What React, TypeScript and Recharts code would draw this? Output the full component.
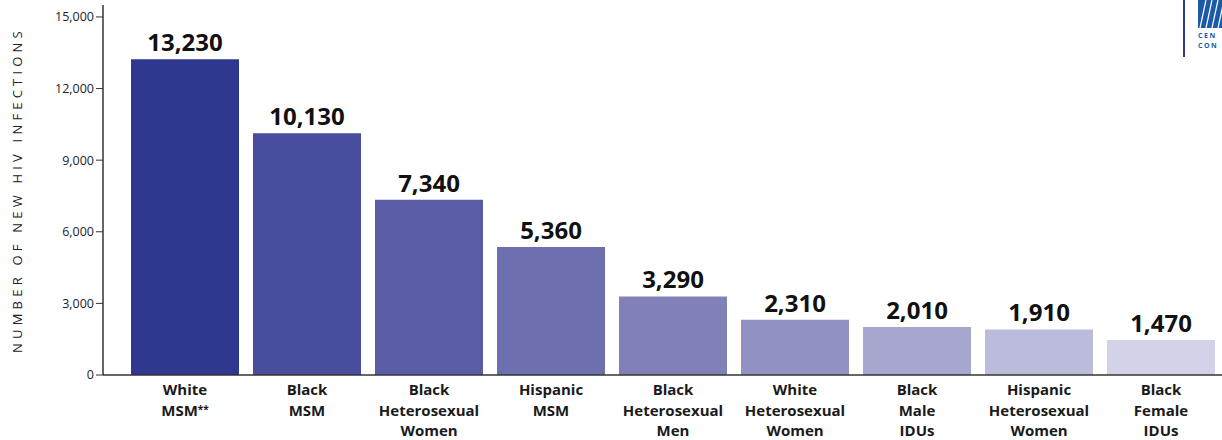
import { BarChart, Bar, XAxis, YAxis, Cell, LabelList } from "recharts";

const groups = [
  "White|MSM**",
  "Black|MSM",
  "Black|Heterosexual|Women",
  "Hispanic|MSM",
  "Black|Heterosexual|Men",
  "White|Heterosexual|Women",
  "Black|Male|IDUs",
  "Hispanic|Heterosexual|Women",
  "Black|Female|IDUs",
];
const infections = [13230, 10130, 7340, 5360, 3290, 2310, 2010, 1910, 1470];
const barColors = [
  "#2d388e",
  "#484d9d",
  "#5a5ca5",
  "#6e6fae",
  "#8181b9",
  "#9292c4",
  "#a6a6cf",
  "#bbbbdb",
  "#d2d2e8",
];
const yTicks = [0, 3000, 6000, 9000, 12000, 15000];

const data = groups.map((g, i) => ({ group: g, value: infections[i] }));

const font = "'Open Sans', 'DejaVu Sans', sans-serif";

// x labels are stored with "|" as line breaks
function GroupTick(props: any) {
  const { x, y, payload } = props;
  const lines: string[] = payload.value.split("|");
  return (
    <text x={x} y={y} textAnchor="middle" fontFamily={font} fontWeight={700} fontSize={15} fill="#1a1a1a">
      {lines.map((line, i) => {
        const stars = line.endsWith("**");
        return (
          <tspan key={i} x={x} y={y + 12 + i * 20.5}>
            {stars ? line.slice(0, -2) : line}
            {stars && (
              <tspan fontSize={10} dy={-3}>
                **
              </tspan>
            )}
          </tspan>
        );
      })}
    </text>
  );
}

// partial agency logo cut by the right edge, as in the original slide
function Logo() {
  return (
    <svg width={40} height={60} style={{ position: "absolute", left: 1182, top: 0 }}>
      <line x1={2} y1={0} x2={2} y2={57} stroke="#2e3a8f" strokeWidth={2} />
      <rect x={16} y={0} width={24} height={28} fill="#1b5aa6" />
      {[0, 6, 12, 18, 24].map((d) => (
        <line key={d} x1={18 + d} y1={28} x2={24 + d} y2={0} stroke="#fff" strokeWidth={1.2} />
      ))}
      <text x={16} y={38} fontFamily={font} fontWeight={700} fontSize={7} letterSpacing={1.5} fill="#1b5aa6">
        CEN
      </text>
      <text x={16} y={48} fontFamily={font} fontWeight={700} fontSize={7} letterSpacing={1.5} fill="#1b5aa6">
        CON
      </text>
    </svg>
  );
}

export default function App() {
  return (
    <div style={{ position: "absolute", left: 0, top: 0, width: 1222, height: 440, overflow: "hidden", background: "#fff" }}>
      <BarChart
        width={1222}
        height={440}
        data={data}
        margin={{ top: 5, right: 0, bottom: 0, left: 0 }}
      >
        <XAxis
          dataKey="group"
          interval={0}
          tick={<GroupTick />}
          tickLine={false}
          axisLine={{ stroke: "#333", strokeWidth: 1.5 }}
          padding={{ left: 21, right: 0 }}
          height={65}
        />
        <YAxis
          width={103}
          domain={[0, 15500]}
          ticks={yTicks}
          tickFormatter={(v: number) => v.toLocaleString("en-US")}
          tick={{ fontFamily: font, fontSize: 12.5, fill: "#222" }}
          tickLine={{ stroke: "#333" }}
          tickSize={7}
          axisLine={{ stroke: "#333", strokeWidth: 1.5 }}
          label={{
            value: "NUMBER OF NEW HIV INFECTIONS",
            angle: -90,
            position: "insideLeft",
            dx: 12,
            dy: 0,
            style: { fontFamily: font, fontSize: 13, letterSpacing: 4.2, fill: "#222", textAnchor: "middle" },
          }}
        />
        <Bar dataKey="value" barSize={108} isAnimationActive={false}>
          {data.map((_, i) => (
            <Cell key={i} fill={barColors[i]} />
          ))}
          <LabelList
            dataKey="value"
            position="top"
            offset={8}
            formatter={(v: any) => Number(v).toLocaleString("en-US")}
            style={{ fontFamily: font, fontWeight: 700, fontSize: 24, fill: "#111" }}
          />
        </Bar>
      </BarChart>
      <Logo />
    </div>
  );
}
